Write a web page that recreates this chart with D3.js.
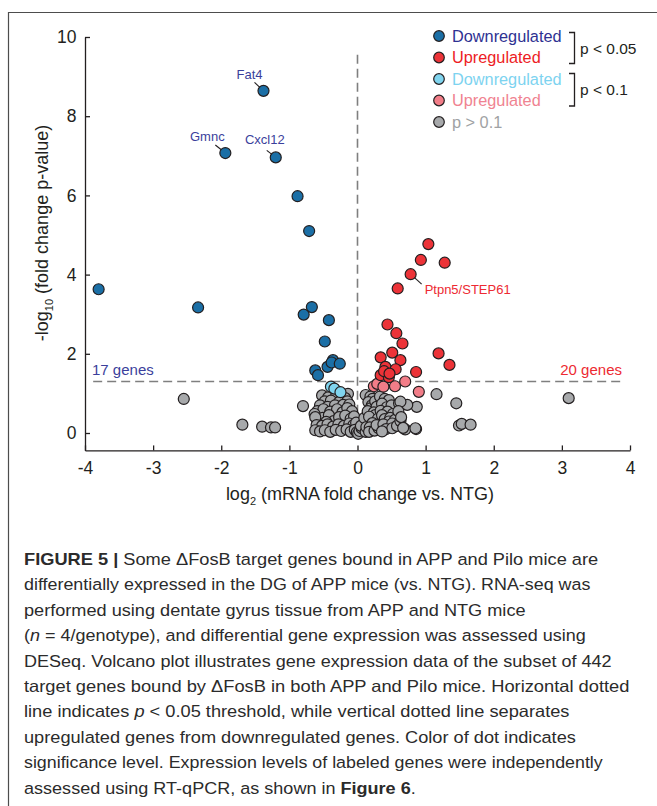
<!DOCTYPE html>
<html>
<head>
<meta charset="utf-8">
<script src="https://cdn.jsdelivr.net/npm/d3@7"></script>
<style>
  html, body { margin: 0; padding: 0; background: #fff; }
  svg { display: block; font-family: "Liberation Sans", Arial, sans-serif; }
</style>
</head>
<body>
<svg id="chart" width="657" height="806"></svg>
<script>
// volcano plot values: [log2 fold change, -log10 p]
const downSig = [
  [-3.80, 3.63], [-2.34, 3.17], [-1.94, 7.07], [-1.38, 8.64], [-1.20, 6.96],
  [-0.88, 5.98], [-0.71, 5.10], [-0.67, 3.18], [-0.79, 2.99], [-0.42, 2.85],
  [-0.48, 2.31], [-0.44, 1.67], [-0.36, 1.84], [-0.38, 1.78], [-0.26, 1.75],
  [-0.62, 1.58], [-0.58, 1.46]
];
const upSig = [
  [1.04, 4.77], [0.93, 4.37], [1.28, 4.30], [0.78, 4.01], [0.59, 3.65],
  [0.44, 2.74], [0.57, 2.52], [0.66, 2.26], [1.19, 2.01], [1.35, 1.72],
  [0.51, 2.03], [0.34, 1.91], [0.63, 1.84], [0.41, 1.67], [0.56, 1.61],
  [0.86, 1.54], [0.34, 1.46], [0.46, 1.41], [0.39, 1.56], [0.47, 1.50]
];
const downTrend = [[-0.39, 1.17], [-0.34, 1.12], [-0.25, 1.03]];
const upTrend = [[0.24, 1.18], [0.29, 1.24], [0.38, 1.17], [0.55, 1.18], [0.70, 1.30], [0.90, 1.04]];
const notSig = [
  [-2.55, 0.86], [-1.69, 0.21], [-1.40, 0.16], [-1.27, 0.14], [-1.21, 0.14], [-0.80, 0.68],
  [3.10, 0.88], [1.16, 0.98], [1.45, 0.75], [1.49, 0.19], [1.53, 0.23], [1.66, 0.21], [0.87, 0.66], [0.86, 0.10],
  [-0.52, 0.95], [-0.43, 0.90], [-0.31, 0.97], [-0.22, 0.94], [-0.14, 0.99], [-0.18, 0.88],
  [-0.48, 0.80], [-0.39, 0.82], [-0.27, 0.78], [-0.15, 0.80], [-0.55, 0.70], [-0.44, 0.66], [-0.33, 0.70], [-0.21, 0.71], [-0.12, 0.72],
  [-0.59, 0.55], [-0.50, 0.60], [-0.40, 0.54], [-0.30, 0.60], [-0.22, 0.52], [-0.15, 0.63], [-0.08, 0.55], [-0.63, 0.48],
  [-0.59, 0.32], [-0.51, 0.38], [-0.42, 0.45], [-0.35, 0.30], [-0.27, 0.40], [-0.18, 0.44], [-0.10, 0.36], [-0.05, 0.42], [-0.62, 0.40], [-0.46, 0.28],
  [-0.60, 0.20], [-0.52, 0.18], [-0.44, 0.22], [-0.36, 0.16], [-0.28, 0.22], [-0.20, 0.18], [-0.12, 0.24], [-0.06, 0.20], [-0.02, 0.26],
  [-0.62, 0.07], [-0.55, 0.04], [-0.48, 0.07], [-0.40, 0.03], [-0.32, 0.08], [-0.24, 0.05], [-0.16, 0.09], [-0.10, 0.03], [-0.04, 0.08], [-0.01, 0.02], [0.01, -0.02],
  [0.03, 0.05], [0.06, 0.12], [0.09, 0.24], [0.05, 0.18], [0.12, 0.03], [0.10, 0.38], [0.13, 0.15],
  [0.12, 0.96], [0.19, 0.92], [0.22, 0.86], [0.16, 0.78], [0.21, 0.70], [0.19, 0.62], [0.26, 0.80], [0.28, 0.66], [0.15, 0.55],
  [0.24, 0.52], [0.26, 0.45], [0.17, 0.41], [0.30, 0.36], [0.22, 0.25], [0.18, 0.14], [0.17, 0.03], [0.25, 0.06], [0.31, 0.12], [0.28, 0.20],
  [0.33, 0.92], [0.40, 0.86], [0.46, 0.83], [0.36, 0.74], [0.43, 0.65], [0.50, 0.70], [0.34, 0.56], [0.44, 0.54], [0.52, 0.48], [0.36, 0.45],
  [0.40, 0.35], [0.48, 0.38], [0.46, 0.29], [0.55, 0.33], [0.38, 0.22], [0.51, 0.24], [0.42, 0.10], [0.51, 0.12], [0.36, 0.04], [0.58, 0.18],
  [0.61, 0.75], [0.73, 0.71], [0.63, 0.79], [0.60, 0.55], [0.63, 0.30], [0.70, 0.09], [0.67, 0.13], [0.64, 0.40], [0.85, 0.12]
];

// labelled genes
const geneNames = ["Fat4", "Gmnc", "Cxcl12", "Ptpn5/STEP61"];
const geneValues = [[-1.38, 8.64], [-1.94, 7.07], [-1.20, 6.96], [0.78, 4.01]];

const xTicks = [-4, -3, -2, -1, 0, 1, 2, 3, 4];
const yTicks = [0, 2, 4, 6, 8, 10];
const pThreshold = -Math.log10(0.05);
const downCount = "17 genes", upCount = "20 genes";

const legendLabels = ["Downregulated", "Upregulated", "Downregulated", "Upregulated", "p > 0.1"];
const bracketLabels = ["p < 0.05", "p < 0.1"];

const captionLines = [
  [["FIGURE 5 | ", "b"], ["Some \u0394FosB target genes bound in APP and Pilo mice are"]],
  [["differentially expressed in the DG of APP mice (vs. NTG). RNA-seq was"]],
  [["performed using dentate gyrus tissue from APP and NTG mice"]],
  [["("], ["n", "i"], [" = 4/genotype), and differential gene expression was assessed using"]],
  [["DESeq. Volcano plot illustrates gene expression data of the subset of 442"]],
  [["target genes bound by \u0394FosB in both APP and Pilo mice. Horizontal dotted"]],
  [["line indicates "], ["p", "i"], [" < 0.05 threshold, while vertical dotted line separates"]],
  [["upregulated genes from downregulated genes. Color of dot indicates"]],
  [["significance level. Expression levels of labeled genes were independently"]],
  [["assessed using RT-qPCR, as shown in "], ["Figure 6", "b"], ["."]]
];
const captionEnds = [599, 591, 526, 586, 612, 630, 570, 576, 603, 416];

const ink = "#231f20";
const colors = {
  downSig: "#1b6fa6", upSig: "#ec3338", downTrend: "#80d4ee", upTrend: "#f27d88", notSig: "#a7a9ab"
};
const legendText = ["#2e3192", "#ed1c24", "#7dd3f0", "#f08391", "#a0a2a4"];

const svg = d3.select("#chart");

// frame around figure
svg.append("path")
  .attr("d", "M8.5,806 V12.5 H657")
  .attr("fill", "none").attr("stroke", "#4d4d4d").attr("stroke-width", 1.2);

const x = d3.scaleLinear().domain([-4, 4]).range([85, 630]);
const y = d3.scaleLinear().domain([0, 10]).range([433, 37]);
const yBottom = -0.44;

// axes, ticks point inward
const xAxis = svg.append("g")
  .attr("transform", `translate(0,${y(yBottom)})`)
  .call(d3.axisBottom(x).tickValues(xTicks).tickSizeInner(-5).tickSizeOuter(0).tickPadding(11).tickFormat(d3.format("d")));
const yScaleAxis = y.copy().domain([yBottom, 10]).range([y(yBottom), y(10)]);
const yAxis = svg.append("g")
  .attr("transform", `translate(${x(-4)},0)`)
  .call(d3.axisLeft(yScaleAxis).tickValues(yTicks).tickSizeInner(-5).tickSizeOuter(0).tickPadding(8.5).tickFormat(d3.format("d")));

[xAxis, yAxis].forEach(a => {
  a.select(".domain").attr("stroke", ink).attr("stroke-width", 1.3);
  a.selectAll(".tick line").attr("stroke", ink).attr("stroke-width", 1.3);
  a.selectAll(".tick text")
    .attr("fill", ink)
    .style("font-size", "17.5px")
    .style("font-family", "'Liberation Sans', Arial, sans-serif")
    .text(d => d < 0 ? "-" + Math.abs(d) : d);
});

// axis titles
const xt = svg.append("text")
  .attr("x", 360).attr("y", 499.5)
  .attr("text-anchor", "middle")
  .attr("fill", ink).style("font-size", "18px");
xt.append("tspan").text("log");
xt.append("tspan").attr("dy", 5).style("font-size", "11px").text("2");
xt.append("tspan").attr("dy", -5).text(" (mRNA fold change vs. NTG)");

const yt = svg.append("text")
  .attr("transform", "translate(48,233) rotate(-90)")
  .attr("text-anchor", "middle")
  .attr("fill", ink).style("font-size", "18px");
yt.append("tspan").text("-log");
yt.append("tspan").attr("dy", 5).style("font-size", "11px").text("10");
yt.append("tspan").attr("dy", -5).text(" (fold change p-value)");

// threshold lines
svg.append("line")
  .attr("x1", x(0)).attr("x2", x(0))
  .attr("y1", y(9.55)).attr("y2", y(-0.1))
  .attr("stroke", "#7f7f7f").attr("stroke-width", 1.6).attr("stroke-dasharray", "9,5");
svg.append("line")
  .attr("x1", x(-3.88)).attr("x2", x(3.90))
  .attr("y1", y(pThreshold)).attr("y2", y(pThreshold))
  .attr("stroke", "#7f7f7f").attr("stroke-width", 1.6).attr("stroke-dasharray", "9,5");

svg.append("text")
  .attr("x", 92).attr("y", y(pThreshold) - 6)
  .attr("fill", "#3b3f9c").style("font-size", "15px").text(downCount);
svg.append("text")
  .attr("x", 622).attr("y", y(pThreshold) - 6)
  .attr("text-anchor", "end")
  .attr("fill", "#ed2a32").style("font-size", "15px").text(upCount);

// gene labels with leader lines
const labelOffsets = [[-9, -8.5, -14, -12], [-10, -8, -18, -12], [-9, -7, -11, -13], [11, 10, 14, 20]];
geneNames.forEach((name, i) => {
  const [gx, gy] = geneValues[i];
  const o = labelOffsets[i];
  const px = x(gx), py = y(gy);
  svg.append("line")
    .attr("x1", px).attr("y1", py)
    .attr("x2", px + o[0]).attr("y2", py + o[1])
    .attr("stroke", ink).attr("stroke-width", 1.1);
  svg.append("text")
    .attr("x", px + o[2]).attr("y", py + o[3])
    .attr("text-anchor", i === 3 ? "start" : "middle")
    .attr("fill", i === 3 ? "#ed2a32" : "#3b3f9c")
    .style("font-size", "13px")
    .text(name);
});

// points: non-significant first, then trend, then significant
const groups = [
  [notSig, colors.notSig], [downTrend, colors.downTrend], [upTrend, colors.upTrend],
  [downSig, colors.downSig], [upSig, colors.upSig]
];
groups.forEach(([data, fill]) => {
  svg.append("g").selectAll("circle")
    .data(data)
    .enter().append("circle")
    .attr("cx", d => x(d[0]))
    .attr("cy", d => y(d[1]))
    .attr("r", 5.5)
    .attr("fill", fill)
    .attr("stroke", ink)
    .attr("stroke-width", 1.2);
});

// legend
const legendFill = [colors.downSig, colors.upSig, colors.downTrend, colors.upTrend, colors.notSig];
const legendY = [36, 57.5, 79, 100.5, 122];
legendLabels.forEach((lab, i) => {
  svg.append("circle")
    .attr("cx", 439).attr("cy", legendY[i]).attr("r", 5.3)
    .attr("fill", legendFill[i]).attr("stroke", ink).attr("stroke-width", 1.2);
  svg.append("text")
    .attr("x", 452).attr("y", legendY[i] + 5.8)
    .attr("fill", legendText[i]).style("font-size", "16.3px")
    .text(lab);
});
const brackets = [[32.5, 63.5], [73.5, 106]];
brackets.forEach(([b0, b1], i) => {
  svg.append("path")
    .attr("d", `M569,${b0} H574.5 V${b1} H569`)
    .attr("fill", "none").attr("stroke", ink).attr("stroke-width", 1.3);
  svg.append("text")
    .attr("x", 580).attr("y", (b0 + b1) / 2 + 5.5)
    .attr("fill", ink).style("font-size", "15.5px")
    .text(bracketLabels[i]);
});

// caption
const capX = 24, capY0 = 565, capStep = 25.4;
captionLines.forEach((segs, i) => {
  const t = svg.append("text")
    .attr("transform", `translate(${capX},${capY0 + i * capStep})`)
    .attr("fill", "#2b2b2b")
    .style("font-family", "'Liberation Sans Narrow', 'Liberation Sans', Arial, sans-serif")
    .style("font-size", "16.5px");
  segs.forEach(([s, st]) => {
    const ts = t.append("tspan").text(s);
    if (st === "b") ts.style("font-weight", "bold");
    if (st === "i") ts.style("font-style", "italic");
  });
  const w = t.node().getComputedTextLength();
  const k = (captionEnds[i] - capX) / w;
  t.attr("transform", `translate(${capX},${capY0 + i * capStep}) scale(${k},1)`);
});
</script>
</body>
</html>
